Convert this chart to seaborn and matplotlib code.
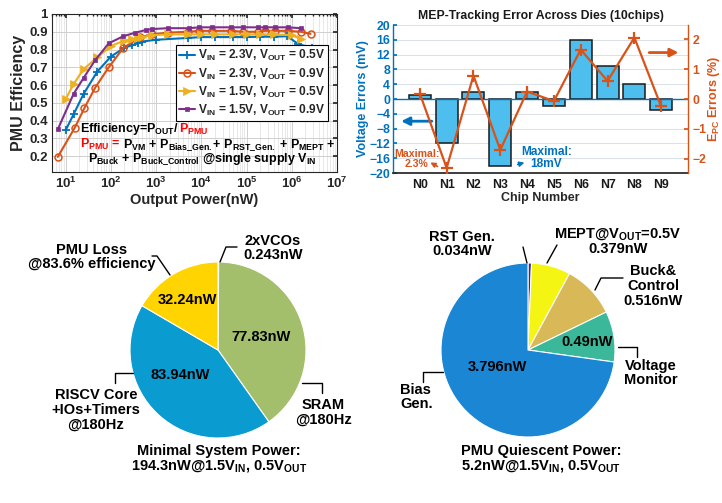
import numpy as np
import pandas as pd
import matplotlib
matplotlib.use('Agg')
import matplotlib.pyplot as plt
import seaborn as sns
from matplotlib.lines import Line2D
from matplotlib.ticker import LogLocator, NullFormatter

sns.set_theme(style='white')
plt.rcParams['font.family'] = ['Liberation Sans', 'DejaVu Sans']
plt.rcParams['font.weight'] = 'bold'
plt.rcParams['axes.labelweight'] = 'bold'
plt.rcParams['axes.titleweight'] = 'bold'
plt.rcParams['mathtext.fontset'] = 'custom'
for k in ['rm', 'it', 'bf', 'sf']:
    plt.rcParams['mathtext.' + k] = 'Liberation Sans:bold'
plt.rcParams['mathtext.default'] = 'rm'

# ---------------- data ----------------
# PMU efficiency vs output power (nW)
p_23_05 = [10, 15, 25, 50, 100, 200, 300, 400, 500, 1000, 5000, 1e4, 2e4, 5e4, 1e5, 2e5, 4e5, 8e5, 1.4e6, 2.8e6]
e_23_05 = [0.345, 0.435, 0.55, 0.675, 0.76, 0.81, 0.825, 0.835, 0.845, 0.855, 0.865, 0.87, 0.87, 0.87, 0.87, 0.872, 0.872, 0.875, 0.83, 0.81]
p_23_09 = [6.7, 16, 26, 45, 90, 190, 450, 800, 1800, 5000, 9000, 17000, 45000, 85000, 175000, 260000, 430000, 810000, 1.6e6, 2.6e6]
e_23_09 = [0.195, 0.36, 0.47, 0.585, 0.70, 0.81, 0.87, 0.885, 0.895, 0.9, 0.905, 0.905, 0.905, 0.9, 0.9, 0.905, 0.905, 0.905, 0.9, 0.888]
p_15_05 = [10, 15, 25, 50, 100, 200, 300, 400, 500, 800, 1800, 5000, 1e4, 2e4, 5e4, 1e5, 2e5, 4e5, 1e6, 1.6e6]
e_15_05 = [0.52, 0.605, 0.69, 0.755, 0.82, 0.85, 0.86, 0.865, 0.87, 0.88, 0.885, 0.885, 0.885, 0.885, 0.885, 0.885, 0.885, 0.885, 0.88, 0.86]
p_15_09 = [6.7, 15, 25, 45, 90, 190, 350, 600, 800, 1800, 5400, 9000, 17000, 45000, 85000, 175000, 260000, 430000, 810000, 1.6e6]
e_15_09 = [0.35, 0.55, 0.64, 0.74, 0.835, 0.875, 0.895, 0.91, 0.915, 0.92, 0.92, 0.925, 0.925, 0.925, 0.925, 0.925, 0.925, 0.925, 0.925, 0.92]
eff_labels = ['V$_{IN}$ = 2.3V, V$_{OUT}$ = 0.5V', 'V$_{IN}$ = 2.3V, V$_{OUT}$ = 0.9V',
              'V$_{IN}$ = 1.5V, V$_{OUT}$ = 0.5V', 'V$_{IN}$ = 1.5V, V$_{OUT}$ = 0.9V']

# MEP tracking
chips = ['N0', 'N1', 'N2', 'N3', 'N4', 'N5', 'N6', 'N7', 'N8', 'N9']
volt_err = [1, -12, 2, -18, 2, -2, 16, 9, 4, -3]
epc_err = [0.18, -2.3, 0.78, -1.7, 0.25, -0.07, 1.65, 0.6, 2.05, -0.25]

# System power pie
sys_labels = ['2xVCOs', 'SRAM', 'RISCV', 'PMU Loss']
sys_vals = [0.243, 77.83, 83.94, 32.24]
sys_colors = ['#FF00FF', '#A4BF6B', '#0A9BD0', '#FFD400']

# PMU quiescent power pie
pmu_labels = ['RST Gen.', 'MEPT', 'Buck&Control', 'Voltage Monitor', 'Bias Gen.']
pmu_vals = [0.034, 0.379, 0.516, 0.49, 3.796]
pmu_colors = ['#3B2A8C', '#F5F514', '#D8B857', '#3BB79A', '#1A86D4']

# ---------------- layout helpers ----------------
W, H = 722, 503
def fx(px): return px / W
def fy(py): return 1 - py / H
def axrect(l, t, r, b): return [l / W, 1 - b / H, (r - l) / W, (b - t) / H]

fig = plt.figure(figsize=(W / 100, H / 100), dpi=100)
fig.patch.set_facecolor('white')

# ---------------- top-left: efficiency ----------------
ax = fig.add_axes(axrect(52, 14, 337, 172))
cols = ['#0072BD', '#D95319', '#EDB120', '#7E2F8E']
styles = [
    dict(marker='+', markersize=6, markeredgewidth=1.3),
    dict(marker='o', markersize=5, markerfacecolor='none', markeredgewidth=1.1),
    dict(marker='>', markersize=6, markeredgewidth=0.5),
    dict(marker='s', markersize=3, markeredgewidth=0.5),
]
series = [(p_23_05, e_23_05), (p_23_09, e_23_09), (p_15_05, e_15_05), (p_15_09, e_15_09)]
for (px_, ey_), lab, st, c in zip(series, eff_labels, styles, cols):
    df = pd.DataFrame({'p': px_, 'e': ey_})
    sns.lineplot(data=df, x='p', y='e', ax=ax, label=lab, linewidth=1.5, color=c,
                 markeredgecolor=c, linestyle='-', **st)
ax.set_xscale('log')
ax.set_xlim(5, 1e7)
ax.set_ylim(0.11, 1.0)
ax.set_yticks([0.2, 0.3, 0.4, 0.5, 0.6, 0.7, 0.8, 0.9, 1.0])
ax.set_yticklabels(['0.2', '0.3', '0.4', '0.5', '0.6', '0.7', '0.8', '0.9', '1'])
ax.xaxis.set_major_locator(LogLocator(base=10, numticks=10))
ax.xaxis.set_minor_locator(LogLocator(base=10, subs=np.arange(2, 10), numticks=20))
ax.xaxis.set_minor_formatter(NullFormatter())
ax.grid(which='major', color='#cfcfcf', linewidth=0.7)
ax.grid(which='minor', axis='x', color='#dedede', linewidth=0.5)
ax.tick_params(which='both', direction='in', top=True, right=True, labelsize=9.5, pad=3)
ax.tick_params(which='major', length=3)
ax.tick_params(which='minor', length=1.5)
for s in ax.spines.values():
    s.set_color('#262626'); s.set_linewidth(0.8)
ax.set_xlabel('Output Power(nW)', fontsize=10.5, labelpad=1)
ax.set_ylabel('PMU Efficiency', fontsize=11.5, labelpad=2)
leg = ax.legend(loc='upper right', bbox_to_anchor=(0.97, 0.805), fontsize=8.6, frameon=True,
                fancybox=False, framealpha=1, edgecolor='black', borderpad=0.3,
                handlelength=1.3, handletextpad=0.25, labelspacing=0.25, borderaxespad=0)
leg.get_frame().set_linewidth(0.8)
leg.set_zorder(3)

t1 = ax.text(fx(80), fy(129), 'Efficiency=P$_{OUT}$/', transform=fig.transFigure,
             fontsize=9, color='black', ha='left', va='center', zorder=6)
ax.annotate('P$_{PMU}$', xy=(1, 0), xycoords=t1, ha='left', va='bottom', fontsize=9,
            color='#FF0000', zorder=6)
t2 = ax.text(fx(80), fy(144.5), 'P$_{PMU}$ =', transform=fig.transFigure,
             fontsize=9, color='#FF0000', ha='left', va='center', zorder=6)
ax.annotate(' P$_{VM}$ + P$_{Bias\\_Gen.}$+ P$_{RST\\_Gen.}$ + P$_{MEPT}$ +', xy=(1, 0), xycoords=t2,
            ha='left', va='bottom', fontsize=9, color='black', zorder=6)
ax.text(fx(88), fy(158.5), 'P$_{Buck}$ + P$_{Buck\\_Control}$ @single supply V$_{IN}$', transform=fig.transFigure,
        fontsize=9, color='black', ha='left', va='center', zorder=6)

# ---------------- top-right: MEP tracking ----------------
blue = '#0072BD'
orange = '#D95319'
ax2 = fig.add_axes(axrect(393, 25, 688, 173))
dfb = pd.DataFrame({'chip': chips, 'err': volt_err})
sns.barplot(data=dfb, x='chip', y='err', ax=ax2, color='#4DBEEE', saturation=1,
            edgecolor='#1a1a1a', linewidth=1.1, width=0.82)
ax2.set_xlim(-1, 10)
ax2.set_ylim(-20, 20)
ax2.set_yticks(np.arange(-20, 21, 4))
ax2.yaxis.grid(True, color='#d8e0ea', linewidth=0.7)
ax2.set_axisbelow(True)
ax2.axhline(0, color=blue, linewidth=1.0, zorder=1.5)
ax2.tick_params(axis='y', colors=blue, direction='in', length=3, labelsize=8.8, pad=2)
ax2.tick_params(axis='x', length=0, labelsize=8.8, colors='#1a1a1a', pad=4)
ax2.set_xlabel('Chip Number', fontsize=9, color='#262626', labelpad=1)
ax2.set_ylabel('Voltage Errors (mV)', fontsize=9, color=blue, labelpad=0)
ax2.set_title('MEP-Tracking Error Across Dies (10chips)', fontsize=8.8, pad=4, color='#1a1a1a')
ax2.spines['left'].set_color(blue); ax2.spines['left'].set_linewidth(1.0)
ax2.spines['bottom'].set_color('#262626')
ax2.spines['right'].set_visible(False)
ax2.spines['top'].set_visible(False)

ax3 = ax2.twinx()
sns.lineplot(x=np.arange(len(chips)), y=epc_err, ax=ax3, color=orange, marker='+',
             markersize=9, markeredgewidth=1.6, markeredgecolor=orange, linewidth=1.6)
ax3.set_ylim(-2.47, 2.47)
ax3.set_yticks([-2, -1, 0, 1, 2])
ax3.tick_params(axis='y', colors=orange, direction='in', length=3, labelsize=8.8, pad=3)
ax3.set_ylabel('E$_{PC}$ Errors (%)', fontsize=9, color=orange, labelpad=0)
for k in ['left', 'top', 'bottom']:
    ax3.spines[k].set_visible(False)
ax3.spines['right'].set_color(orange); ax3.spines['right'].set_linewidth(1.0)
ax3.set_xlim(-1, 10)

ax2.annotate('', xy=(-0.8, -6), xytext=(0.55, -6),
             arrowprops=dict(arrowstyle='-|>', color=blue, lw=2, mutation_scale=12), annotation_clip=False)
ax3.annotate('', xy=(9.75, 1.55), xytext=(8.45, 1.55),
             arrowprops=dict(arrowstyle='-|>', color=orange, lw=2, mutation_scale=12), annotation_clip=False)
ax2.text(-0.12, -16.2, 'Maximal:\n2.3%', color=orange, fontsize=7.6, ha='center', va='center', linespacing=1.1)
ax2.annotate('', xy=(0.3, -16.8), xytext=(0.75, -18.6),
             arrowprops=dict(arrowstyle='-|>', color=orange, lw=1.2, mutation_scale=7))
ax2.text(4.72, -16.0, 'Maximal:\n18mV', color=blue, fontsize=8.6, ha='center', va='center', linespacing=1.05)
ax2.annotate('', xy=(4.0, -17.0), xytext=(3.55, -17.9),
             arrowprops=dict(arrowstyle='-|>', color=blue, lw=1.2, mutation_scale=7))

# ---------------- bottom: pies ----------------
def pie_axes(cx, cy, r, pad=1.25):
    return fig.add_axes(axrect(cx - r * pad, cy - r * pad, cx + r * pad, cy + r * pad))

axp1 = pie_axes(218, 350, 88)
axp1.pie(sys_vals, colors=sys_colors, startangle=90, counterclock=False, radius=1,
         wedgeprops=dict(edgecolor='white', linewidth=0.8))
axp1.set_xlim(-1.25, 1.25); axp1.set_ylim(-1.25, 1.25); axp1.set_aspect('equal'); axp1.axis('off')

axp2 = pie_axes(528, 350, 87)
axp2.pie(pmu_vals, colors=pmu_colors, startangle=90, counterclock=False, radius=1,
         wedgeprops=dict(edgecolor='white', linewidth=0.8))
axp2.set_xlim(-1.25, 1.25); axp2.set_ylim(-1.25, 1.25); axp2.set_aspect('equal'); axp2.axis('off')

FS = 10.5
def label(px, py, s, ha='center', fs=FS):
    fig.text(fx(px), fy(py), s, ha=ha, va='center', fontsize=fs, color='black',
             multialignment=ha, linespacing=1.05)

def leader(pts):
    xs = [fx(p[0]) for p in pts]; ys = [fy(p[1]) for p in pts]
    fig.add_artist(Line2D(xs, ys, color='black', linewidth=1.0, transform=fig.transFigure))

label(92, 257, 'PMU Loss\n@83.6% efficiency')
leader([(152, 256), (157, 256), (170, 275)])
label(273, 248, '2xVCOs\n0.243nW')
leader([(220, 262), (226, 247), (237, 247)])
label(187, 300, '32.24nW')
label(261, 337, '77.83nW')
label(180, 375, '83.94nW')
label(323, 412, 'SRAM\n@180Hz')
leader([(302, 383), (322, 383), (322, 393)])
label(96, 410, 'RISCV Core\n+IOs+Timers\n@180Hz')
leader([(133, 373), (115, 373), (115, 383)])
label(219, 459, 'Minimal System Power:\n194.3nW@1.5V$_{IN}$, 0.5V$_{OUT}$')

label(462, 244, 'RST Gen.\n0.034nW')
leader([(527, 263), (523, 247)])
label(618, 241, 'MEPT@V$_{OUT}$=0.5V\n0.379nW')
leader([(547, 263), (557, 245)])
label(653, 286, 'Buck&\nControl\n0.516nW')
leader([(595, 290), (601, 278), (623, 278)])
label(587, 342, '0.49nW')
label(651, 373, 'Voltage\nMonitor')
leader([(618, 347), (637, 347), (637, 357)])
label(497, 367, '3.796nW')
label(400, 397, 'Bias\nGen.', ha='left')
leader([(443, 372), (423, 372), (423, 382)])
label(541, 459, 'PMU Quiescent Power:\n5.2nW@1.5V$_{IN}$, 0.5V$_{OUT}$')

fig.savefig('out.png', dpi=100, facecolor='white')
